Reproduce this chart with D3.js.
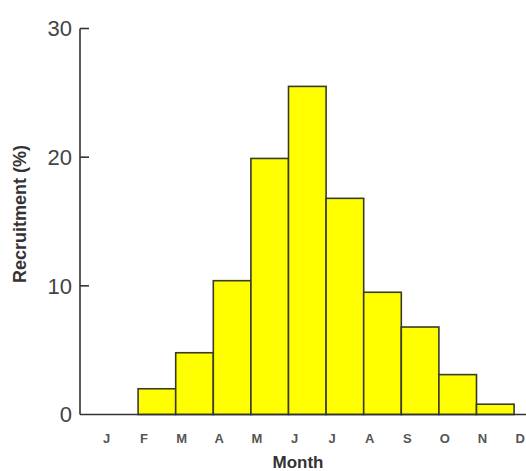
<!doctype html>
<html>
<head>
<meta charset="utf-8">
<title>Recruitment by month</title>
<script src="https://cdn.jsdelivr.net/npm/d3@7"></script>
<style>
  body { margin: 0; background: #fff; }
  text { font-family: "Liberation Sans", Arial, sans-serif; }
</style>
</head>
<body>
<div id="chart"></div>
<script>
  // recruitment (%) per month
  const months = ['J', 'F', 'M', 'A', 'M', 'J', 'J', 'A', 'S', 'O', 'N', 'D'];
  const recruitment = [0, 2.0, 4.8, 10.4, 19.9, 25.5, 16.8, 9.5, 6.8, 3.1, 0.8, 0];
  const yTicks = [0, 10, 20, 30];

  const W = 526, H = 471;
  const margin = {left: 80, top: 28.5, bottom: 56.5};
  const bandW = 37.6;

  const svg = d3.select('#chart').append('svg')
    .attr('width', W)
    .attr('height', H);

  const x = d3.scaleBand()
    .domain(d3.range(months.length))
    .range([margin.left + 20.5, margin.left + 20.5 + bandW * months.length])
    .padding(0);

  const y = d3.scaleLinear()
    .domain([0, 30])
    .range([H - margin.bottom, margin.top]);

  // bars (zero months have nothing drawn)
  svg.selectAll('rect.bar')
    .data(recruitment.map((v, i) => ({i, v})).filter(d => d.v > 0))
    .enter().append('rect')
    .attr('class', 'bar')
    .attr('x', d => x(d.i))
    .attr('y', d => y(d.v))
    .attr('width', x.bandwidth())
    .attr('height', d => y(0) - y(d.v))
    .attr('fill', '#ffff00')
    .attr('stroke', '#3a3a2a')
    .attr('stroke-width', 1.6);

  // axes
  svg.append('line')
    .attr('x1', margin.left).attr('x2', W)
    .attr('y1', y(0)).attr('y2', y(0))
    .attr('stroke', '#333').attr('stroke-width', 1.6);

  svg.append('line')
    .attr('x1', margin.left).attr('x2', margin.left)
    .attr('y1', y(30)).attr('y2', y(0))
    .attr('stroke', '#333').attr('stroke-width', 1.6);

  svg.selectAll('line.ytick')
    .data(yTicks.filter(t => t > 0))
    .enter().append('line')
    .attr('class', 'ytick')
    .attr('x1', margin.left).attr('x2', margin.left + 9)
    .attr('y1', d => y(d)).attr('y2', d => y(d))
    .attr('stroke', '#333').attr('stroke-width', 1.6);

  svg.selectAll('text.ylab')
    .data(yTicks)
    .enter().append('text')
    .attr('class', 'ylab')
    .attr('x', margin.left - 8)
    .attr('y', d => y(d))
    .attr('dy', '0.36em')
    .attr('text-anchor', 'end')
    .attr('font-size', 22)
    .attr('fill', '#444')
    .text(d => d);

  svg.selectAll('text.xlab')
    .data(months)
    .enter().append('text')
    .attr('class', 'xlab')
    .attr('x', (d, i) => x(i) + 6)
    .attr('y', y(0) + 28)
    .attr('text-anchor', 'middle')
    .attr('font-size', 13)
    .attr('font-weight', 'bold')
    .attr('fill', '#555')
    .text(d => d);

  svg.append('text')
    .attr('x', 298)
    .attr('y', 468)
    .attr('text-anchor', 'middle')
    .attr('font-size', 17)
    .attr('font-weight', 'bold')
    .attr('fill', '#333')
    .text('Month');

  svg.append('text')
    .attr('transform', `translate(26,${214}) rotate(-90)`)
    .attr('text-anchor', 'middle')
    .attr('font-size', 18)
    .attr('font-weight', 'bold')
    .attr('fill', '#333')
    .text('Recruitment (%)');
</script>
</body>
</html>
